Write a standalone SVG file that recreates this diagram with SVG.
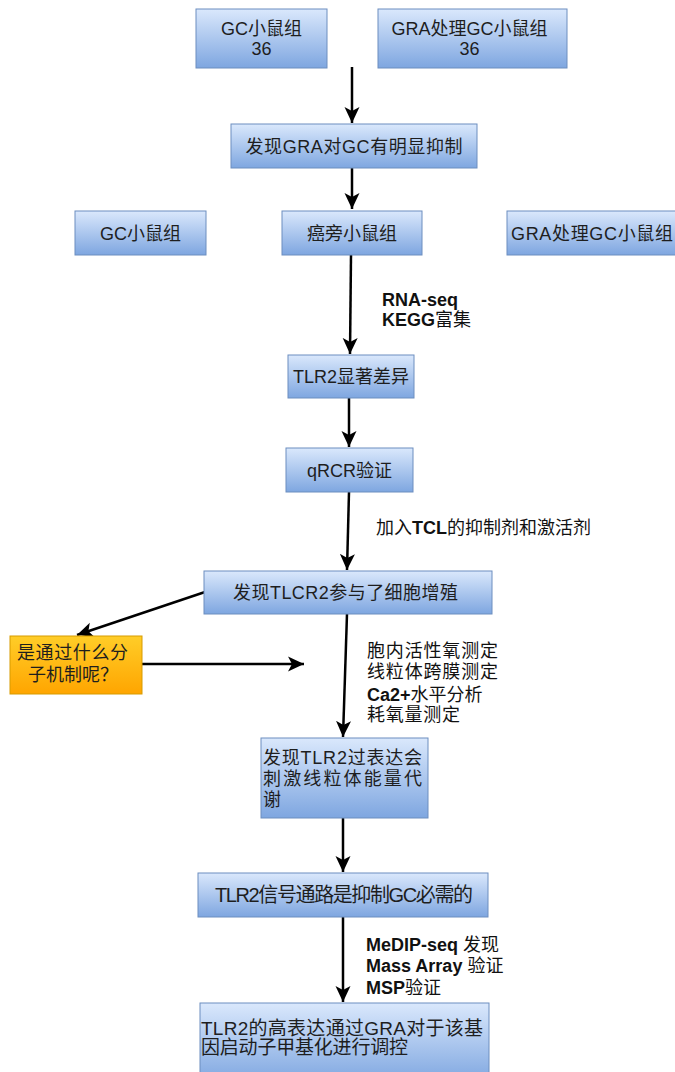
<svg xmlns="http://www.w3.org/2000/svg" width="675" height="1072" viewBox="0 0 675 1072">
  <style>
    .box { fill: url(#blueFill); stroke: #6c8ebf; stroke-width: 1; }
    .warn { fill: url(#orangeFill); stroke: #d79b00; stroke-width: 1; }
    .lbl { font-family: "Liberation Sans", "Noto Sans CJK SC", sans-serif; font-size: 18px; fill: #1e1e1e; }
    .big { font-size: 20px; }
    .mid { font-size: 19px; }
    .note { font-family: "Liberation Sans", "Noto Sans CJK SC", sans-serif; font-size: 18px; fill: #111; }
    .b { font-weight: bold; }
    .edge { fill: none; stroke: #000; stroke-width: 2.5; marker-end: url(#head); }
  </style>
  <defs>
    <linearGradient id="blueFill" x1="0" y1="0" x2="0" y2="1">
      <stop offset="0" stop-color="#dae8fc"/>
      <stop offset="1" stop-color="#7ea6e0"/>
    </linearGradient>
    <linearGradient id="orangeFill" x1="0" y1="0" x2="0" y2="1">
      <stop offset="0" stop-color="#ffcd28"/>
      <stop offset="1" stop-color="#ffa500"/>
    </linearGradient>
    <!-- classic notched arrowhead, sized in user units -->
    <marker id="head" markerWidth="18" markerHeight="18" refX="16" refY="9" orient="auto" markerUnits="userSpaceOnUse" viewBox="0 0 18 18">
      <path d="M0,1.5 L16,9 L0,16.5 L4,9 Z" fill="#000"/>
    </marker>
  </defs>

  <rect width="675" height="1072" fill="#fff"/>

  <!-- connectors -->
  <g id="edges">
    <path class="edge" d="M352,67 L352,123"/>
    <path class="edge" d="M352,168 L352,209"/>
    <path class="edge" d="M351,255 L350,354"/>
    <path class="edge" d="M349,398 L349,447"/>
    <path class="edge" d="M349,492 L347,570"/>
    <path class="edge" d="M205,592 L77,635"/>
    <path class="edge" d="M142,664 L304,664"/>
    <path class="edge" d="M347,614 L343,737"/>
    <path class="edge" d="M343,818 L343,872"/>
    <path class="edge" d="M343,917 L343,1002"/>
  </g>

  <!-- nodes -->
  <g id="gc36">
    <rect class="box" x="196" y="9" width="131" height="59"/>
    <text class="lbl" x="261.5" y="35" text-anchor="middle">GC小鼠组</text>
    <text class="lbl" x="261.5" y="55" text-anchor="middle">36</text>
  </g>
  <g id="gra36">
    <rect class="box" x="378" y="9" width="189" height="59"/>
    <text class="lbl" x="469.5" y="35" text-anchor="middle">GRA处理GC小鼠组</text>
    <text class="lbl" x="469.5" y="55" text-anchor="middle">36</text>
  </g>
  <g id="inhibit">
    <rect class="box" x="231" y="124" width="246" height="44"/>
    <text class="lbl" x="354" y="153" text-anchor="middle" textLength="217">发现GRA对GC有明显抑制</text>
  </g>
  <g id="gcGroup">
    <rect class="box" x="75" y="211" width="131" height="44"/>
    <text class="lbl" x="140.5" y="240" text-anchor="middle">GC小鼠组</text>
  </g>
  <g id="adjGroup">
    <rect class="box" x="282" y="211" width="140" height="44"/>
    <text class="lbl" x="352" y="240" text-anchor="middle">癌旁小鼠组</text>
  </g>
  <g id="graGroup">
    <rect class="box" x="507" y="211" width="175" height="44"/>
    <text class="lbl" x="511" y="240" textLength="162">GRA处理GC小鼠组</text>
  </g>
  <g id="tlr2diff">
    <rect class="box" x="288" y="355" width="126" height="43"/>
    <text class="lbl" x="351" y="383" text-anchor="middle">TLR2显著差异</text>
  </g>
  <g id="qrcr">
    <rect class="box" x="286" y="448" width="127" height="44"/>
    <text class="lbl" x="349.5" y="477" text-anchor="middle">qRCR验证</text>
  </g>
  <g id="prolif">
    <rect class="box" x="204" y="571" width="288" height="43"/>
    <text class="lbl" x="345.5" y="599" text-anchor="middle" textLength="225">发现TLCR2参与了细胞增殖</text>
  </g>
  <g id="question">
    <rect class="warn" x="10" y="636" width="132" height="58"/>
    <text class="lbl" x="17" y="659" textLength="111">是通过什么分</text>
    <text class="lbl" x="28" y="681">子机制呢？</text>
  </g>
  <g id="mito">
    <rect class="box" x="261" y="738" width="167" height="80"/>
    <text class="lbl" x="263" y="764" textLength="159">发现TLR2过表达会</text>
    <text class="lbl" x="263" y="785" textLength="159">刺激线粒体能量代</text>
    <text class="lbl" x="263" y="806">谢</text>
  </g>
  <g id="pathway">
    <rect class="box" x="198" y="873" width="290" height="44"/>
    <text class="lbl big" x="344" y="902" text-anchor="middle" textLength="258">TLR2信号通路是抑制GC必需的</text>
  </g>
  <g id="methyl">
    <rect class="box" x="200" y="1003" width="289" height="80"/>
    <text class="lbl mid" x="201" y="1035" textLength="282">TLR2的高表达通过GRA对于该基</text>
    <text class="lbl mid" x="201" y="1054" textLength="207">因启动子甲基化进行调控</text>
  </g>

  <!-- edge notes -->
  <g id="notes">
    <text class="note b" x="382" y="306">RNA-seq</text>
    <text class="note" x="382" y="326"><tspan class="b">KEGG</tspan>富集</text>
    <text class="note" x="376" y="534">加入<tspan class="b">TCL</tspan>的抑制剂和激活剂</text>
    <text class="note" x="367" y="657" textLength="131">胞内活性氧测定</text>
    <text class="note" x="367" y="678" textLength="131">线粒体跨膜测定</text>
    <text class="note" x="367" y="701"><tspan class="b">Ca2+</tspan>水平分析</text>
    <text class="note" x="367" y="721" textLength="93">耗氧量测定</text>
    <text class="note" x="366" y="951"><tspan class="b">MeDIP-seq</tspan> 发现</text>
    <text class="note" x="366" y="972"><tspan class="b">Mass Array</tspan> 验证</text>
    <text class="note" x="366" y="994"><tspan class="b">MSP</tspan>验证</text>
  </g>
</svg>
